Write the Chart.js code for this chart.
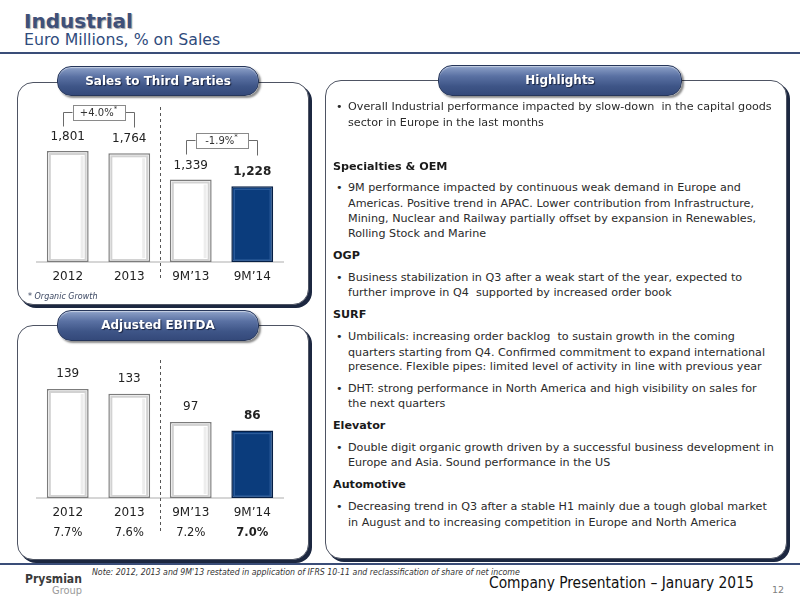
<!DOCTYPE html>
<html>
<head>
<meta charset="utf-8">
<script src="https://cdn.jsdelivr.net/npm/chart.js@4.4.1/dist/chart.umd.min.js"></script>
<style>
  html, body { margin: 0; padding: 0; }
  body { width: 800px; height: 600px; position: relative; overflow: hidden; background: #fff;
         font-family: 'DejaVu Sans', Verdana, sans-serif; color: #222; }
  .abs { position: absolute; white-space: pre; }
  .panel { position: absolute; border: 1px solid #4e5463; border-radius: 16px;
           box-shadow: 3px 3px 0 0 #1c2740; background: #fff; }
  .pill { position: absolute; border: 1px solid #26365a; border-radius: 14px;
          background: linear-gradient(#8ea2c9 0%, #5a71a3 35%, #3e5587 70%, #34497a 100%);
          box-shadow: 2px 2px 2px rgba(0,0,0,0.45), inset 0 1px 1px rgba(255,255,255,0.5);
          color: #fff; font-weight: bold; font-size: 12px; text-align: center;
          text-shadow: 1px 1px 1px #1a2440; }
  .hline { position: absolute; left: 0; width: 800px; height: 2px; background: #3a4d78; }
  .body { font-size: 10.5px; line-height: 14px; color: #2a2a2a; }
  .head { font-size: 10.5px; line-height: 14px; font-weight: bold; color: #1a1a1a; }
  canvas { position: absolute; }
</style>
</head>
<body>

<!-- Title -->
<div class="abs" id="title" data-w="109" style="left:24px; top:9px; line-height:24px; font-size:20px; font-weight:bold; color:#3f5079; text-shadow:1px 1px 1px rgba(0,0,0,0.35);">Industrial</div>
<div class="abs" id="subtitle" data-w="196" style="left:24px; top:29px; line-height:22px; font-size:15.7px; color:#2f4b7c;">Euro Millions, % on Sales</div>
<div class="hline" style="top:52px;"></div>

<!-- Panels -->
<div class="panel" style="left:17px; top:82px; width:290px; height:221px;"></div>
<div class="panel" style="left:17px; top:325px; width:290px; height:233px;"></div>
<div class="panel" style="left:325px; top:80px; width:460px; height:477px;"></div>

<canvas id="salesChart" width="290" height="215" style="left:17px; top:82px; width:290px; height:215px;"></canvas>
<canvas id="ebitdaChart" width="290" height="210" style="left:17px; top:340px; width:290px; height:210px;"></canvas>

<div class="pill" style="left:57px; top:66px; width:200px; height:28px; line-height:28px;">Sales to Third Parties</div>
<div class="pill" style="left:57px; top:310px; width:200px; height:29px; line-height:29px;">Adjusted EBITDA</div>
<div class="pill" style="left:438px; top:65px; width:242px; height:29px; line-height:29px;">Highlights</div>

<div class="abs" style="left:28px; top:290px; line-height:14px; font-size:8px; font-style:italic; color:#3a4660;">* Organic Growth</div>

<div id="highlights"></div>

<!-- Footer -->
<div class="hline" style="top:563px;"></div>
<div class="abs" data-w="57" style="left:25px; top:571px; line-height:16px; font-size:14px; font-weight:bold; font-family:'DejaVu Sans Condensed','DejaVu Sans',sans-serif; color:#3a3a3a;">Prysmian</div>
<div class="abs" data-w="30" style="left:52px; top:584px; line-height:14px; font-size:11px; font-family:'DejaVu Sans Condensed','DejaVu Sans',sans-serif; color:#9a9a9a;">Group</div>
<div class="abs" data-w="428" style="left:92px; top:566px; line-height:12px; font-size:8px; font-style:italic; font-family:'DejaVu Sans Condensed','DejaVu Sans',sans-serif; color:#333;">Note: 2012, 2013 and 9M'13 restated in application of IFRS 10-11 and reclassification of share of net income</div>
<div class="abs" data-w="265" style="left:489px; top:574px; line-height:18px; font-size:14px; font-family:'DejaVu Sans Condensed','DejaVu Sans',sans-serif; color:#111;">Company Presentation – January 2015</div>
<div class="abs" style="left:772px; top:583px; line-height:14px; font-size:9.5px; color:#808080;">12</div>

<script>
// ---------------- Data ----------------
const categories = ['2012', '2013', '9M’13', '9M’14'];
const salesValues = [1801, 1764, 1339, 1228];
const ebitdaValues = [139, 133, 97, 86];
const ebitdaMargins = ['7.7%', '7.6%', '7.2%', '7.0%'];
const salesGrowthLabels = ['+4.0%', '-1.9%'];
const highlightIndex = 3;

// ---------------- Highlights text ----------------
const highlightLines = [
  ['b', 106.5, 'Overall Industrial performance impacted by slow-down  in the capital goods'],
  ['c', 122.7, 'sector in Europe in the last months'],
  ['h', 166.7, 'Specialties & OEM'],
  ['b', 188.3, '9M performance impacted by continuous weak demand in Europe and'],
  ['c', 204, 'Americas. Positive trend in APAC. Lower contribution from Infrastructure,'],
  ['c', 219, 'Mining, Nuclear and Railway partially offset by expansion in Renewables,'],
  ['c', 234.3, 'Rolling Stock and Marine'],
  ['h', 256, 'OGP'],
  ['b', 278.3, 'Business stabilization in Q3 after a weak start of the year, expected to'],
  ['c', 293.3, 'further improve in Q4  supported by increased order book'],
  ['h', 315, 'SURF'],
  ['b', 337.3, 'Umbilicals: increasing order backlog  to sustain growth in the coming'],
  ['c', 352.7, 'quarters starting from Q4. Confirmed commitment to expand international'],
  ['c', 367.3, 'presence. Flexible pipes: limited level of activity in line with previous year'],
  ['b', 389, 'DHT: strong performance in North America and high visibility on sales for'],
  ['c', 404, 'the next quarters'],
  ['h', 426, 'Elevator'],
  ['b', 448.3, 'Double digit organic growth driven by a successful business development in'],
  ['c', 462.7, 'Europe and Asia. Sound performance in the US'],
  ['h', 485, 'Automotive'],
  ['b', 507.3, 'Decreasing trend in Q3 after a stable H1 mainly due a tough global market'],
  ['c', 522.7, 'in August and to increasing competition in Europe and North America']
];
const hl = document.getElementById('highlights');
const bodyEls = [];
highlightLines.forEach(([kind, y, text]) => {
  const el = document.createElement('div');
  el.className = 'abs ' + (kind === 'h' ? 'head' : 'body');
  el.style.top = (y - 7) + 'px';
  el.style.left = (kind === 'h' ? 333 : 348) + 'px';
  el.textContent = text;
  hl.appendChild(el);
  bodyEls.push(el);
  if (kind === 'b') {
    const dot = document.createElement('div');
    dot.className = 'abs body';
    dot.style.top = (y - 7) + 'px';
    dot.style.left = '336px';
    dot.textContent = '•';
    hl.appendChild(dot);
    bodyEls.push(dot);
  }
});
// fit body font so the first line spans the same width as in the slide
(function () {
  const first = bodyEls[0];
  const w = first.getBoundingClientRect().width;
  const fs = 10.5 * 424.5 / w;
  bodyEls.forEach(el => el.style.fontSize = fs + 'px');
})();
document.querySelectorAll('[data-w]').forEach(el => {
  const w = el.getBoundingClientRect().width;
  const fs = parseFloat(getComputedStyle(el).fontSize);
  el.style.fontSize = (fs * parseFloat(el.dataset.w) / w) + 'px';
});

// ---------------- Chart plugin ----------------
const FONT = "'DejaVu Sans', Verdana, sans-serif";
const decor = {
  id: 'decor',
  afterDraw(chart, args, opts) {
    const ctx = chart.ctx;
    const meta = chart.getDatasetMeta(0);
    const xs = chart.scales.x, ys = chart.scales.y;
    const base = ys.getPixelForValue(0);
    const values = chart.data.datasets[0].data;

    // bevel effect + value labels
    meta.data.forEach((bar, i) => {
      const p = bar.getProps(['x', 'y', 'base', 'width'], true);
      const l = p.x - p.width / 2, r = p.x + p.width / 2, t = p.y, b = p.base;
      ctx.save();
      if (i === highlightIndex) {
        ctx.strokeStyle = '#2c5c9b';
        ctx.lineWidth = 1.2;
        ctx.strokeRect(l + 3, t + 3, r - l - 6, b - t - 5);
      } else {
        ctx.strokeStyle = '#d2d2d2';
        ctx.lineWidth = 2;
        ctx.strokeRect(l + 3, t + 3, r - l - 6, b - t - 5);
        ctx.fillStyle = 'rgba(0,0,0,0.07)';
        ctx.fillRect(r - 8, t + 5, 3, b - t - 9);
      }
      ctx.restore();

      ctx.save();
      ctx.fillStyle = '#222';
      ctx.textAlign = 'center';
      ctx.textBaseline = 'middle';
      ctx.font = (i === highlightIndex ? 'bold ' : '') + '12px ' + FONT;
      ctx.fillText(values[i].toLocaleString('en-US'), p.x, t - opts.labelGap);
      ctx.restore();
    });

    // dashed separator between full years and 9M
    const sx = (xs.getPixelForValue(1) + xs.getPixelForValue(2)) / 2;
    ctx.save();
    ctx.strokeStyle = '#555';
    ctx.lineWidth = 1;
    ctx.setLineDash([3, 3]);
    ctx.beginPath();
    ctx.moveTo(Math.round(sx) + 0.5, base + opts.dashTop);
    ctx.lineTo(Math.round(sx) + 0.5, base + opts.dashBottom);
    ctx.stroke();
    ctx.restore();

    // growth brackets
    if (opts.brackets) {
      opts.brackets.forEach((label, g) => {
        const a = g * 2, bI = g * 2 + 1;
        const xl = xs.getPixelForValue(a) - 5, xr = xs.getPixelForValue(bI) + 5;
        const yl = Math.round(ys.getPixelForValue(Math.max(values[a], values[bI])) - 39) + 0.5;
        const cx = (xs.getPixelForValue(a) + xs.getPixelForValue(bI)) / 2;
        const bw = 52, bh = 15;
        ctx.save();
        ctx.strokeStyle = '#6a6a6a';
        ctx.lineWidth = 1;
        ctx.beginPath();
        ctx.moveTo(Math.round(xl) + 0.5, yl + 14);
        ctx.lineTo(Math.round(xl) + 0.5, yl);
        ctx.lineTo(cx - bw / 2, yl);
        ctx.moveTo(cx + bw / 2, yl);
        ctx.lineTo(Math.round(xr) + 0.5, yl);
        ctx.lineTo(Math.round(xr) + 0.5, yl + 15);
        ctx.stroke();
        ctx.fillStyle = '#fff';
        ctx.strokeStyle = '#8a8a8a';
        ctx.fillRect(Math.round(cx - bw / 2) + 0.5, Math.round(yl - bh / 2) + 0.5, bw, bh);
        ctx.strokeRect(Math.round(cx - bw / 2) + 0.5, Math.round(yl - bh / 2) + 0.5, bw, bh);
        ctx.fillStyle = '#333';
        ctx.textBaseline = 'middle';
        ctx.font = '10px ' + FONT;
        const tw = ctx.measureText(label).width;
        ctx.font = '7px ' + FONT;
        const sw = ctx.measureText('*').width;
        const x0 = cx - (tw + sw) / 2;
        ctx.textAlign = 'left';
        ctx.font = '10px ' + FONT;
        ctx.fillText(label, x0, yl + 0.5);
        ctx.font = '7px ' + FONT;
        ctx.fillText('*', x0 + tw, yl - 3);
        ctx.restore();
      });
    }

    // margin row
    if (opts.margins) {
      ctx.save();
      ctx.fillStyle = '#222';
      ctx.textAlign = 'center';
      ctx.textBaseline = 'middle';
      opts.margins.forEach((m, i) => {
        ctx.font = (i === highlightIndex ? 'bold ' : '') + '11.5px ' + FONT;
        ctx.fillText(m, xs.getPixelForValue(i), base + opts.marginOffset);
      });
      ctx.restore();
    }
  }
};

function makeChart(id, values, yMax, padding, decorOpts) {
  return new Chart(document.getElementById(id), {
    type: 'bar',
    data: {
      labels: categories,
      datasets: [{
        data: values,
        backgroundColor: values.map((v, i) => i === highlightIndex ? '#0b3c7c' : '#ffffff'),
        borderColor: values.map((v, i) => i === highlightIndex ? '#061f45' : '#7c7c7c'),
        borderWidth: 1.5,
        borderSkipped: false,
        categoryPercentage: 1,
        barPercentage: 0.68
      }]
    },
    options: {
      responsive: false,
      animation: false,
      devicePixelRatio: window.devicePixelRatio || 1,
      layout: { padding: padding },
      plugins: { legend: { display: false }, tooltip: { enabled: false }, decor: decorOpts },
      scales: {
        x: {
          grid: { display: false, drawTicks: false },
          border: { display: true, color: '#d6d6d6', width: 2 },
          ticks: { color: '#222', padding: 8, font: { family: FONT, size: 12 } }
        },
        y: { display: false, min: 0, max: yMax }
      }
    },
    plugins: [decor]
  });
}

makeChart('salesChart', salesValues, 2600,
  { left: 20, right: 24, top: 19.8, bottom: 4.6 },
  { labelGap: 14, dashTop: -155, dashBottom: 18, brackets: salesGrowthLabels });

makeChart('ebitdaChart', ebitdaValues, 190,
  { left: 20, right: 24, top: 9, bottom: 21.6 },
  { labelGap: 15, dashTop: -138, dashBottom: 34, margins: ebitdaMargins, marginOffset: 35 });
</script>
</body>
</html>
